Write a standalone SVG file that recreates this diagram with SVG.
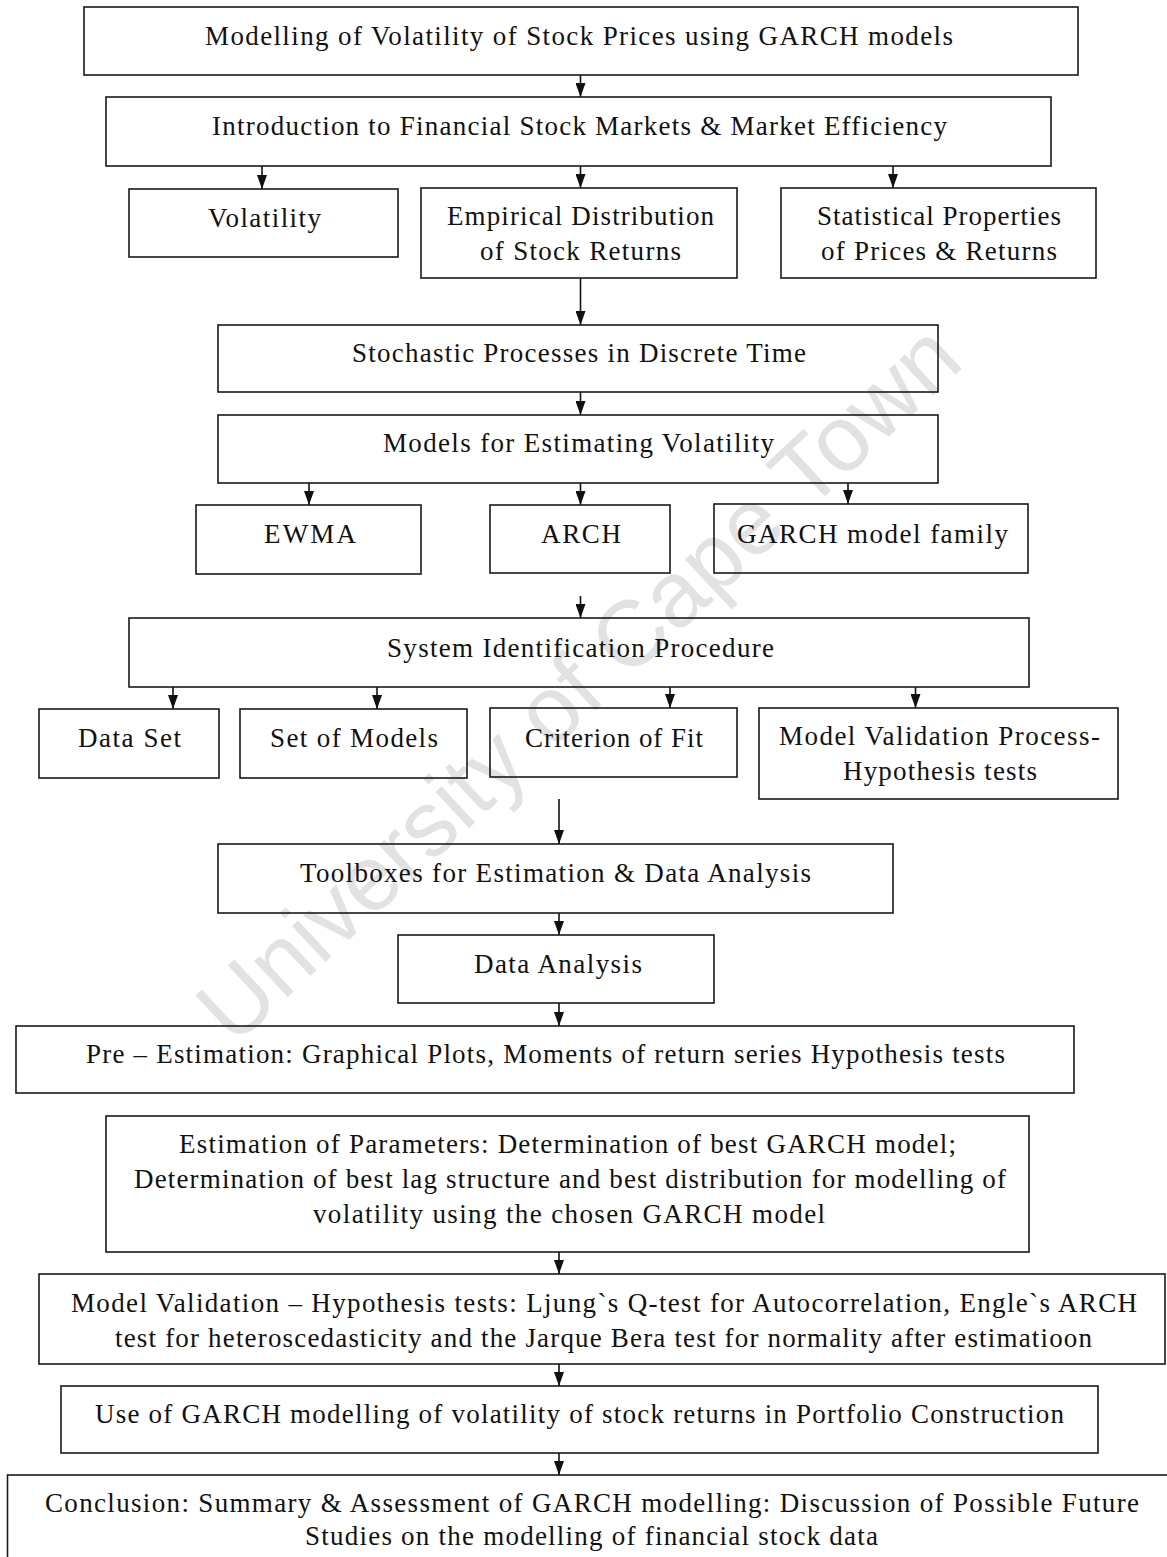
<svg xmlns="http://www.w3.org/2000/svg" width="1167" height="1557" viewBox="0 0 1167 1557">
<style>
.bx{fill:none;stroke:#1a1a1a;stroke-width:1.6}
.t{font-family:"Liberation Serif","Times New Roman",serif;font-size:27px;fill:#111}
.wm{font-family:"Liberation Sans",Arial,sans-serif;font-size:93px;fill:#e2e2e2}
.c{stroke:#111;stroke-width:1.6;fill:none;marker-end:url(#ah)}
</style>
<defs>
<marker id="ah" viewBox="0 0 14 10" refX="14" refY="5" markerWidth="14" markerHeight="10" markerUnits="userSpaceOnUse" orient="auto">
<path d="M0,0 L14,5 L0,10 z" fill="#111"/>
</marker>
</defs>
<rect width="1167" height="1557" fill="#fff"/>
<text class="wm" transform="translate(600,706) rotate(-43)" text-anchor="middle">University of Cape Town</text>

<g id="connectors">
<line class="c" x1="580.5" y1="75" x2="580.5" y2="97"/>
<line class="c" x1="262" y1="166" x2="262" y2="189"/>
<line class="c" x1="580.5" y1="166" x2="580.5" y2="188"/>
<line class="c" x1="893" y1="166" x2="893" y2="188"/>
<line class="c" x1="580.5" y1="278" x2="580.5" y2="325"/>
<line class="c" x1="580.5" y1="392" x2="580.5" y2="415"/>
<line class="c" x1="309" y1="483" x2="309" y2="505"/>
<line class="c" x1="580.5" y1="483" x2="580.5" y2="505"/>
<line class="c" x1="848" y1="483" x2="848" y2="504"/>
<line class="c" x1="580.5" y1="596" x2="580.5" y2="618"/>
<line class="c" x1="173" y1="687" x2="173" y2="709"/>
<line class="c" x1="377" y1="687" x2="377" y2="709"/>
<line class="c" x1="670" y1="687" x2="670" y2="708"/>
<line class="c" x1="915.5" y1="687" x2="915.5" y2="708"/>
<line class="c" x1="559" y1="799" x2="559" y2="844"/>
<line class="c" x1="559" y1="913" x2="559" y2="935"/>
<line class="c" x1="559" y1="1003" x2="559" y2="1026"/>
<line class="c" x1="559" y1="1252" x2="559" y2="1274"/>
<line class="c" x1="559" y1="1364" x2="559" y2="1386"/>
<line class="c" x1="559" y1="1453" x2="559" y2="1475"/>
</g>

<g id="n1"><rect class="bx" x="84" y="7" width="994" height="68"/>
<text class="t" x="205" y="45" textLength="748">Modelling of Volatility of Stock Prices using GARCH models</text></g>
<g id="n2"><rect class="bx" x="106" y="97" width="945" height="69"/>
<text class="t" x="212" y="135" textLength="735">Introduction to Financial Stock Markets &amp; Market Efficiency</text></g>
<g id="n3"><rect class="bx" x="129" y="189" width="269" height="68"/>
<text class="t" x="208" y="227" textLength="113">Volatility</text></g>
<g id="n4"><rect class="bx" x="421" y="188" width="316" height="90"/>
<text class="t" x="447" y="225" textLength="267">Empirical Distribution</text>
<text class="t" x="480" y="260" textLength="201">of Stock Returns</text></g>
<g id="n5"><rect class="bx" x="781" y="188" width="315" height="90"/>
<text class="t" x="817" y="225" textLength="244">Statistical Properties</text>
<text class="t" x="821" y="260" textLength="236">of Prices &amp; Returns</text></g>
<g id="n6"><rect class="bx" x="218" y="325" width="720" height="67"/>
<text class="t" x="352" y="362" textLength="454">Stochastic Processes in Discrete Time</text></g>
<g id="n7"><rect class="bx" x="218" y="415" width="720" height="68"/>
<text class="t" x="383" y="452" textLength="391">Models for Estimating Volatility</text></g>
<g id="n8"><rect class="bx" x="196" y="505" width="225" height="69"/>
<text class="t" x="264" y="543" textLength="92">EWMA</text></g>
<g id="n9"><rect class="bx" x="490" y="505" width="180" height="68"/>
<text class="t" x="541" y="543" textLength="80">ARCH</text></g>
<g id="n10"><rect class="bx" x="714" y="504" width="314" height="69"/>
<text class="t" x="737" y="543" textLength="271">GARCH model family</text></g>
<g id="n11"><rect class="bx" x="129" y="618" width="900" height="69"/>
<text class="t" x="387" y="657" textLength="387">System Identification Procedure</text></g>
<g id="n12"><rect class="bx" x="39" y="709" width="180" height="69"/>
<text class="t" x="78" y="747" textLength="103">Data Set</text></g>
<g id="n13"><rect class="bx" x="240" y="709" width="227" height="69"/>
<text class="t" x="270" y="747" textLength="168">Set of Models</text></g>
<g id="n14"><rect class="bx" x="490" y="708" width="247" height="69"/>
<text class="t" x="525" y="747" textLength="178">Criterion of Fit</text></g>
<g id="n15"><rect class="bx" x="759" y="708" width="359" height="91"/>
<text class="t" x="779" y="745" textLength="321">Model Validation Process-</text>
<text class="t" x="843" y="780" textLength="194">Hypothesis tests</text></g>
<g id="n16"><rect class="bx" x="218" y="844" width="675" height="69"/>
<text class="t" x="300" y="882" textLength="511">Toolboxes for Estimation &amp; Data Analysis</text></g>
<g id="n17"><rect class="bx" x="398" y="935" width="316" height="68"/>
<text class="t" x="474" y="973" textLength="168">Data Analysis</text></g>
<g id="n18"><rect class="bx" x="16" y="1026" width="1058" height="67"/>
<text class="t" x="86" y="1063" textLength="919">Pre – Estimation: Graphical Plots, Moments of return series Hypothesis tests</text></g>
<g id="n19"><rect class="bx" x="106" y="1116" width="923" height="136"/>
<text class="t" x="179" y="1153" textLength="777">Estimation of Parameters: Determination of best GARCH model;</text>
<text class="t" x="134" y="1188" textLength="872">Determination of best lag structure and best distribution for modelling of</text>
<text class="t" x="313" y="1223" textLength="512">volatility using the chosen GARCH model</text></g>
<g id="n20"><rect class="bx" x="39" y="1274" width="1126" height="90"/>
<text class="t" x="71" y="1312" textLength="1066">Model Validation – Hypothesis tests: Ljung`s Q-test for Autocorrelation, Engle`s ARCH</text>
<text class="t" x="115" y="1347" textLength="977">test for heteroscedasticity and the Jarque Bera test for normality after estimatioon</text></g>
<g id="n21"><rect class="bx" x="61" y="1386" width="1037" height="67"/>
<text class="t" x="95" y="1423" textLength="969">Use of GARCH modelling of volatility of stock returns in Portfolio Construction</text></g>
<g id="n22"><rect class="bx" x="7.5" y="1475" width="1165" height="100"/>
<text class="t" x="45" y="1512" textLength="1094">Conclusion: Summary &amp; Assessment of GARCH modelling: Discussion of Possible Future</text>
<text class="t" x="305" y="1545" textLength="573">Studies on the modelling of financial stock data</text></g>
</svg>
